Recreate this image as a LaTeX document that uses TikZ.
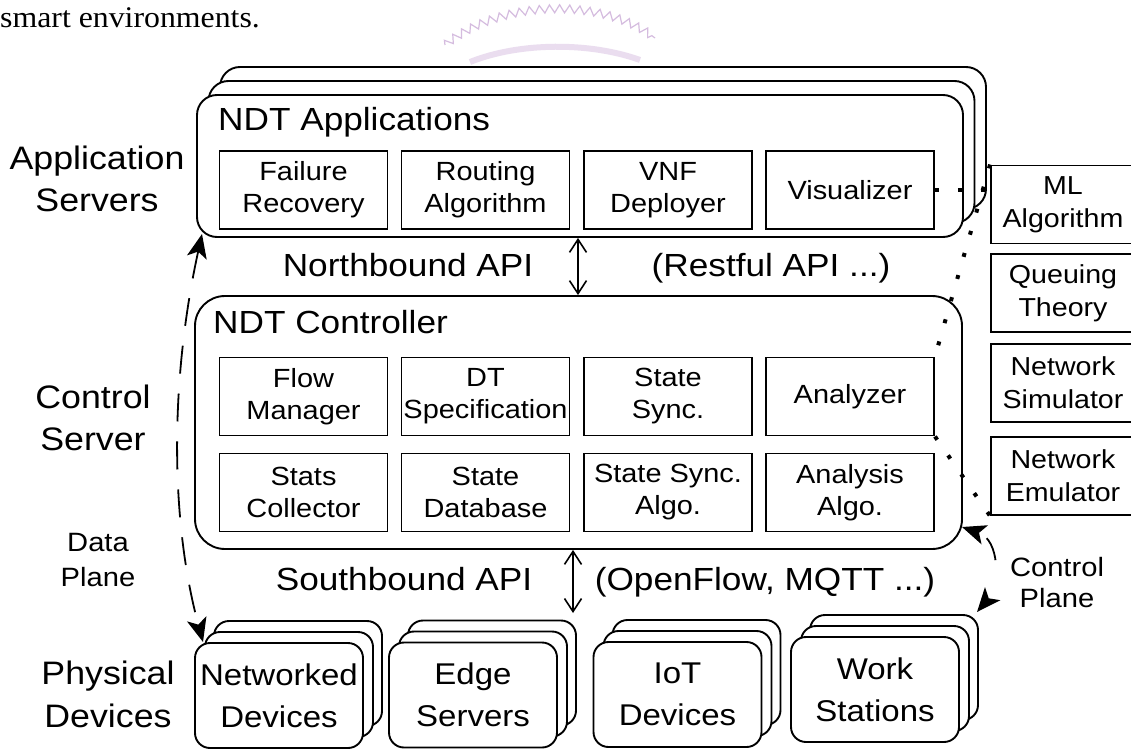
\documentclass[tikz,border=0pt]{standalone}
\usepackage{fontspec}
\setmainfont{Liberation Sans}[FakeStretch=1.1]
\newfontfamily\serifface{Liberation Serif}[FakeStretch=1.06]
\usetikzlibrary{arrows.meta,decorations.pathmorphing}
\definecolor{wmpurple}{RGB}{196,160,210}
\tikzset{
  frame/.style={draw, line width=1.9pt, fill=white, inner sep=0pt},
  appbox/.style={frame, rounded corners=20pt, minimum width=766pt, minimum height=142pt},
  ctlbox/.style={frame, rounded corners=30pt, minimum width=767pt, minimum height=253pt},
  devbox/.style={frame, rounded corners=15pt, minimum width=168pt, minimum height=105pt,
    align=center, font=\fontsize{30}{42}\selectfont},
  ibox/.style={frame, minimum width=168pt, minimum height=78pt, align=center,
    font=\fontsize{26.3}{32}\selectfont},
  rbox/.style={frame, minimum width=144pt, minimum height=78pt, align=center,
    font=\fontsize{26}{33}\selectfont},
  biglabel/.style={inner sep=0pt, align=center, font=\fontsize{32.5}{42}\selectfont},
  title/.style={inner sep=0pt, font=\fontsize{32}{36}\selectfont},
  small/.style={inner sep=0pt, align=center, font=\fontsize{26.5}{35}\selectfont},
  api/.style={line width=1.6pt, {Straight Barb[length=13pt,width=17pt]}-{Straight Barb[length=13pt,width=17pt]}},
  plane/.style={line width=1.8pt, {Stealth[length=24pt,width=20pt,inset=6pt]}-{Stealth[length=24pt,width=20pt,inset=6pt]}},
  dotline/.style={line width=4pt, dash pattern=on 4pt off 19pt},
  wm/.style={wmpurple, line width=1.2pt, opacity=0.7}
}
\begin{document}
\begin{tikzpicture}[x=1pt,y=-1pt]
\useasboundingbox (0,0) rectangle (1131,749);
\clip (0,0) rectangle (1131,749);
\fill[white] (0,0) rectangle (1131,749);

% faint watermark
\draw[wm, decorate, decoration={zigzag, segment length=10pt, amplitude=4pt}]
  (445,45) .. controls (500,0) and (600,-4) .. (655,38);
\draw[wmpurple, opacity=0.35, line width=6pt] (470,62) .. controls (520,42) and (590,42) .. (640,60);

% top text
\node[inner sep=0pt, anchor=base west, font=\serifface\fontsize{30}{34}\selectfont] (txt) at (0,28) {smart environments.};

% application servers stack
\node[appbox] (app3) at (603,138) {};
\node[appbox] (app2) at (591.5,152) {};
\node[appbox] (app) at (580,166) {};
\node[title, anchor=base west] (apptitle) at (218,130) {NDT Applications};
\node[ibox] (fr) at (303.5,190) {Failure\\Recovery};
\node[ibox] (ra) at (485.5,190) {Routing\\Algorithm};
\node[ibox] (vnf) at (668,190) {VNF\\Deployer};
\node[ibox] (vis) at (850,190) {Visualizer};

% controller
\node[ctlbox] (ctl) at (578.5,422.5) {};
\node[title, anchor=base west] (ctltitle) at (213,333) {NDT Controller};
\node[ibox] (fm) at (303.5,396.5) {Flow\\Manager};
\node[ibox] (dts) at (485.5,396.5) {DT\\Specification};
\node[ibox] (ss) at (668,396.5) {State\\Sync.};
\node[ibox] (an) at (850,396.5) {Analyzer};
\node[ibox] (sc) at (303.5,492.5) {Stats\\Collector};
\node[ibox] (sd) at (485.5,492.5) {State\\Database};
\node[ibox] (ssa) at (668,492.5) {State Sync.\\Algo.};
\node[ibox] (aa) at (850,492.5) {Analysis\\Algo.};

% right side tools
\node[rbox] (ml) at (1063,204.5) {ML\\Algorithm};
\node[rbox] (qt) at (1063,293) {Queuing\\Theory};
\node[rbox] (nsim) at (1063,383) {Network\\Simulator};
\node[rbox] (nemu) at (1063,476) {Network\\Emulator};

% physical devices stacks
\node[devbox] (nd3) at (298,673.5) {};
\node[devbox] (nd2) at (289,684.5) {};
\node[devbox] (nd) at (279,695.5) {Networked\\Devices};
\node[devbox] (es3) at (492,673) {};
\node[devbox] (es2) at (483,684) {};
\node[devbox] (es) at (473,695) {Edge\\Servers};
\node[devbox] (io3) at (696.5,672.5) {};
\node[devbox] (io2) at (687.5,683.5) {};
\node[devbox] (io) at (677.5,694.5) {IoT\\Devices};
\node[devbox] (ws3) at (894,667.5) {};
\node[devbox] (ws2) at (885,678.5) {};
\node[devbox] (ws) at (875,689.5) {Work\\Stations};

% side labels
\node[biglabel] (las) at (97,178.5) {Application\\Servers};
\node[biglabel] (lcs) at (93,417.5) {Control\\Server};
\node[biglabel, font=\fontsize{32.5}{43}\selectfont] (lpd) at (108,694.5) {Physical\\Devices};
\node[small] (ldp) at (98,560) {Data\\Plane};
\node[small, font=\fontsize{26.5}{31}\selectfont] (lcp) at (1057,582.5) {Control\\Plane};

% API labels
\node[title, anchor=base] (nb) at (408,276) {Northbound API};
\node[title, anchor=base] (rest) at (771,276) {(Restful API ...)};
\node[title, anchor=base] (sb) at (404,590) {Southbound API};
\node[title, anchor=base] (of) at (765,590) {(OpenFlow, MQTT ...)};

% API arrows
\coordinate (nbx) at (578,0);
\draw[api] (app.south -| nbx) -- (ctl.north -| nbx);
\coordinate (sbend) at (573,613);
\draw[api] (ctl.south -| sbend) -- (sbend);

% data plane
\coordinate (dpA) at (202,234);
\coordinate (dpB) at (203,642);
\draw[plane, dash pattern=on 28pt off 20pt] (dpA) .. controls (170,380) and (170,520) .. (dpB);

% control plane
\coordinate (cpA) at (962,527);
\coordinate (cpB) at (977,612);
\draw[plane, dash pattern=on 0pt off 10pt on 24pt off 100pt] (cpA) .. controls (1000,540) and (1000,585) .. (cpB);

% dotted links
\draw[dotline] (vis.east) -- (vis.east -| ml.west);
\draw[dotline] (ml.north west) -- (an.north east);
\draw[dotline] (an.south east) -- (nemu.south west);
\end{tikzpicture}
\end{document}
